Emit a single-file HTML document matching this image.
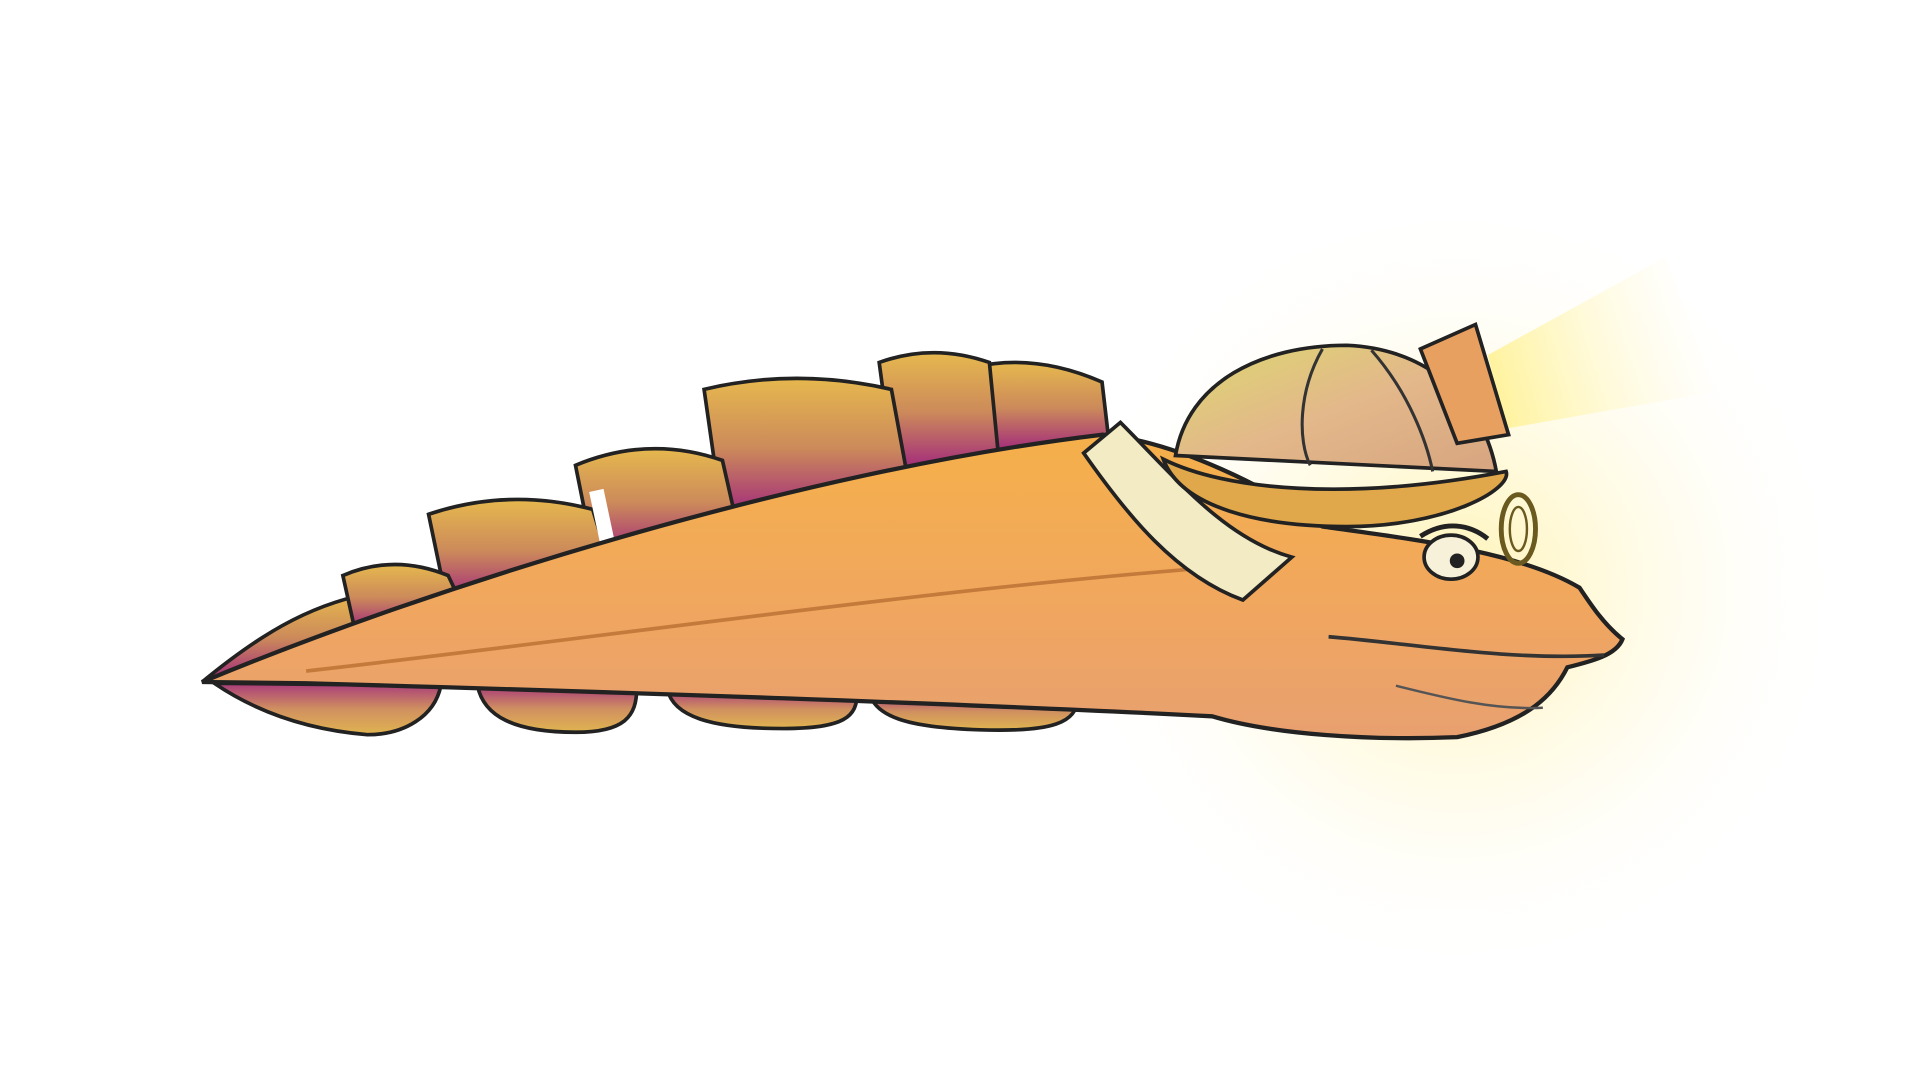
<!DOCTYPE html>
<html><head><meta charset="utf-8"><style>
html,body{margin:0;padding:0;background:#fff;}
svg{display:block;}
</style></head><body>
<svg width="1920" height="1080" viewBox="0 0 1568 882" xmlns="http://www.w3.org/2000/svg">
<defs>
<radialGradient id="glow" cx="1190" cy="480" r="320" gradientUnits="userSpaceOnUse">
<stop offset="0" stop-color="#fff4b8" stop-opacity="1"/>
<stop offset="0.45" stop-color="#fffade" stop-opacity="0.8"/>
<stop offset="1" stop-color="#ffffff" stop-opacity="0"/>
</radialGradient>
<linearGradient id="beam" x1="1220" y1="300" x2="1400" y2="260" gradientUnits="userSpaceOnUse">
<stop offset="0" stop-color="#fff3a0"/><stop offset="1" stop-color="#fffbe8" stop-opacity="0"/>
</linearGradient>
<linearGradient id="fin" x1="0" y1="0" x2="0" y2="1">
<stop offset="0" stop-color="#e6b84e"/><stop offset="0.5" stop-color="#cc8a5a"/><stop offset="1" stop-color="#a0257e"/>
</linearGradient>
<linearGradient id="finlow" x1="0" y1="0" x2="0" y2="1">
<stop offset="0" stop-color="#a83a7a"/><stop offset="0.5" stop-color="#d09060"/><stop offset="1" stop-color="#e0b450"/>
</linearGradient>
<linearGradient id="body" x1="0" y1="0" x2="0" y2="1">
<stop offset="0" stop-color="#f5b04a"/><stop offset="0.6" stop-color="#f0a660"/><stop offset="1" stop-color="#e8a070"/>
</linearGradient>
<linearGradient id="helmet" x1="0" y1="0" x2="1" y2="1">
<stop offset="0" stop-color="#dcd870"/><stop offset="0.5" stop-color="#e3b88a"/><stop offset="1" stop-color="#d7a580"/>
</linearGradient>
</defs>
<rect width="1568" height="882" fill="#fff"/>
<circle cx="1190" cy="480" r="320" fill="url(#glow)"/>
<polygon points="1215,290 1360,210 1400,320 1230,350" fill="url(#beam)"/>
<g stroke="#222" stroke-width="3" fill="url(#finlow)">
<path d="M175,558 L360,560 C355,585 330,600 300,600 C240,595 200,575 175,558Z"/>
<path d="M390,560 L520,562 C520,585 510,598 470,598 C420,598 395,585 390,560Z"/>
<path d="M545,563 L700,566 C700,585 690,595 640,595 C580,595 550,585 545,563Z"/>
<path d="M710,566 L880,570 C880,590 860,598 800,596 C740,594 715,585 710,566Z"/>
</g>
<g stroke="#222" stroke-width="3" fill="url(#fin)">
<path d="M165,557 C210,520 250,495 300,485 L300,512 Z"/>
<path d="M805,370 L795,300 Q845,288 900,312 L905,355 Z"/>
<path d="M730,385 L718,296 Q762,280 808,296 L815,368 Z"/>
<path d="M590,423 L575,318 Q650,300 728,318 L740,383 Z"/>
<path d="M485,455 L470,380 Q530,355 590,376 L600,420 Z"/>
<path d="M365,492 L350,420 Q415,398 484,416 L495,452 Z"/>
<path d="M290,515 L280,470 Q322,452 366,470 L375,489 Z"/>
</g>
<rect x="486" y="400" width="12" height="48" fill="#fff" transform="rotate(-12 492 424)"/>
<path d="M165,557 C350,480 650,385 900,355 C960,360 1040,400 1080,430 C1150,440 1240,450 1290,480 C1300,495 1310,510 1325,522 C1320,535 1300,540 1280,545 C1270,565 1250,590 1190,602 C1120,605 1040,600 990,585 C800,575 500,565 250,558 Z" fill="url(#body)" stroke="#222" stroke-width="3.5"/>
<path d="M250,548 C500,520 800,475 1040,460" fill="none" stroke="#c47a3a" stroke-width="3"/>
<path d="M1085,520 C1150,525 1230,540 1310,535" fill="none" stroke="#333" stroke-width="3"/>
<path d="M1140,560 C1180,570 1220,580 1260,578" fill="none" stroke="#555" stroke-width="2"/>
<path d="M885,370 L915,345 C960,390 1000,440 1055,455 L1015,490 C960,470 920,420 885,370Z" fill="#f2ebc4" stroke="#222" stroke-width="3"/>
<g>
<ellipse cx="1185" cy="455" rx="22" ry="18" fill="#f6f1d8" stroke="#222" stroke-width="3"/>
<circle cx="1190" cy="458" r="6" fill="#222"/>
<path d="M1160,438 C1180,425 1200,428 1215,440" fill="none" stroke="#222" stroke-width="4"/>
</g>
<g fill="none" stroke="#6a5a20" stroke-width="4">
<ellipse cx="1240" cy="432" rx="14" ry="28"/>
<ellipse cx="1240" cy="432" rx="7" ry="18" stroke-width="2"/>
</g>
<g>
<path d="M960,372 C970,312 1030,282 1100,282 C1170,285 1212,330 1222,385 Z" fill="url(#helmet)" stroke="#222" stroke-width="3"/>
<path d="M1080,285 C1060,320 1060,360 1070,380 M1120,286 C1150,320 1165,360 1170,385" fill="none" stroke="#333" stroke-width="2.5"/>
<path d="M950,375 C1000,400 1100,410 1230,385 C1235,400 1180,430 1100,430 C1030,430 965,415 950,375Z" fill="#e0a84a" stroke="#222" stroke-width="3"/>
<path d="M1160,285 L1205,265 L1232,355 L1190,362 Z" fill="#e8a060" stroke="#222" stroke-width="3"/>
</g>
</svg>
</body></html>
